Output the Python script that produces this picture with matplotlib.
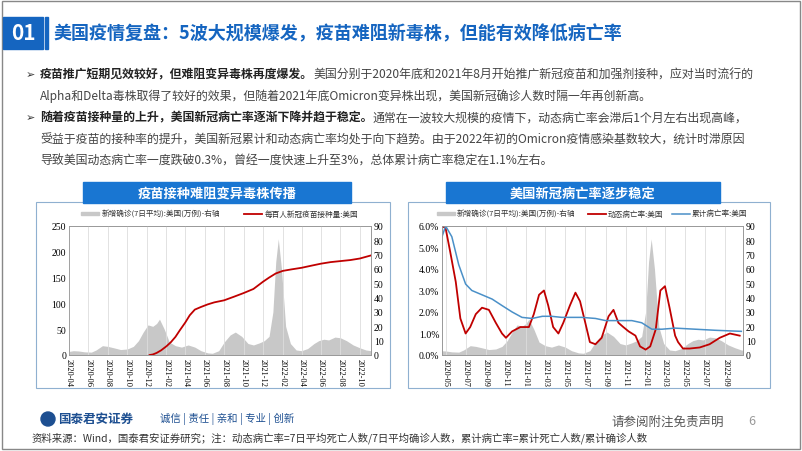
import numpy as np
import pandas as pd
import matplotlib
matplotlib.use("Agg")
from matplotlib import pyplot as plt
from matplotlib.patches import Rectangle
import matplotlib.dates as mdates

plt.rcParams['font.family'] = ['Noto Sans CJK SC', 'DejaVu Sans']

# new cases, 7-day average, US (10k)
case_dates = ['2020-04-01', '2020-04-15', '2020-05-01', '2020-05-20', '2020-06-10', '2020-06-25', '2020-07-15',
              '2020-08-01', '2020-08-20', '2020-09-10', '2020-10-01', '2020-10-20', '2020-11-05', '2020-11-20',
              '2020-12-05', '2020-12-20', '2021-01-01', '2021-01-10', '2021-01-25', '2021-02-10', '2021-03-01',
              '2021-03-20', '2021-04-10', '2021-05-01', '2021-05-20', '2021-06-10', '2021-06-25', '2021-07-15',
              '2021-08-01', '2021-08-20', '2021-09-05', '2021-09-25', '2021-10-15', '2021-11-01', '2021-11-20',
              '2021-12-05', '2021-12-20', '2022-01-01', '2022-01-10', '2022-01-18', '2022-01-28', '2022-02-10',
              '2022-02-25', '2022-03-15', '2022-04-01', '2022-04-20', '2022-05-10', '2022-05-25', '2022-06-10',
              '2022-06-25', '2022-07-15', '2022-08-01', '2022-08-20', '2022-09-10', '2022-10-01', '2022-10-20',
              '2022-11-05']
case_vals = [2.5, 3.0, 2.8, 2.2, 2.0, 3.5, 6.5, 6.0, 5.0, 3.8, 4.2, 6.0, 10.0, 16.0, 21.0, 20.0, 22.0, 25.0,
             18.0, 9.0, 6.5, 5.5, 7.0, 5.5, 3.0, 1.5, 1.2, 3.0, 9.0, 14.0, 16.0, 13.0, 8.0, 7.0, 8.5, 10.0,
             13.0, 30.0, 65.0, 81.0, 60.0, 20.0, 8.0, 3.5, 3.0, 4.5, 8.0, 10.0, 11.0, 10.5, 12.5, 12.0, 10.0,
             7.0, 5.0, 3.5, 3.0]

# doses per 100 people, US
vac_dates = ['2020-12-10', '2020-12-20', '2021-01-01', '2021-01-15', '2021-02-01', '2021-02-15', '2021-03-01',
             '2021-03-15', '2021-04-01', '2021-04-15', '2021-05-01', '2021-05-20', '2021-06-10', '2021-07-01',
             '2021-08-01', '2021-09-01', '2021-10-01', '2021-11-01', '2021-12-01', '2021-12-20', '2022-01-10',
             '2022-02-01', '2022-03-01', '2022-04-01', '2022-05-01', '2022-06-01', '2022-07-01', '2022-08-01',
             '2022-09-01', '2022-10-01', '2022-11-05']
vac_vals = [0, 1, 4, 9, 17, 25, 35, 48, 63, 77, 88, 93, 98, 102, 106, 113, 120, 128, 142, 150, 158, 163, 166,
            169, 173, 177, 180, 182, 184, 187, 193]

# dynamic case fatality rate (%)
dyn_dates = ['2020-04-20', '2020-05-01', '2020-05-15', '2020-06-01', '2020-06-15', '2020-07-01', '2020-07-15',
             '2020-08-01', '2020-08-20', '2020-09-10', '2020-10-01', '2020-10-20', '2020-11-01', '2020-11-20',
             '2020-12-15', '2021-01-10', '2021-01-25', '2021-02-10', '2021-02-25', '2021-03-10', '2021-03-25',
             '2021-04-10', '2021-04-25', '2021-05-15', '2021-06-01', '2021-06-15', '2021-07-01', '2021-07-15',
             '2021-08-01', '2021-08-20', '2021-09-10', '2021-09-25', '2021-10-10', '2021-10-25', '2021-11-10',
             '2021-12-01', '2021-12-15', '2022-01-01', '2022-01-15', '2022-02-01', '2022-02-15', '2022-03-01',
             '2022-03-15', '2022-04-01', '2022-04-10', '2022-04-25', '2022-05-15', '2022-06-15', '2022-07-15',
             '2022-08-15', '2022-09-15', '2022-10-15']
dyn_vals = [6.0, 5.9, 4.8, 3.4, 1.7, 1.0, 1.3, 1.9, 2.2, 2.1, 1.5, 1.0, 0.8, 1.1, 1.3, 1.3, 1.9, 2.8, 3.0, 2.3,
            1.3, 1.0, 1.5, 2.3, 2.9, 2.5, 1.5, 0.6, 0.5, 0.8, 1.8, 2.1, 1.5, 1.3, 1.1, 0.9, 0.4, 0.25, 0.4, 1.2,
            3.0, 3.2, 2.2, 0.9, 0.6, 0.3, 0.3, 0.35, 0.5, 0.8, 1.0, 0.9]

# cumulative case fatality rate (%)
cum_dates = ['2020-04-20', '2020-05-01', '2020-05-20', '2020-06-10', '2020-07-01', '2020-07-20', '2020-08-20',
             '2020-09-20', '2020-10-20', '2020-11-20', '2020-12-20', '2021-01-20', '2021-02-20', '2021-03-20',
             '2021-04-20', '2021-06-20', '2021-08-01', '2021-09-01', '2021-10-01', '2021-11-20', '2021-12-20',
             '2022-01-20', '2022-02-20', '2022-04-01', '2022-06-01', '2022-08-01', '2022-10-20']
cum_vals = [5.5, 6.0, 5.5, 4.2, 3.3, 3.0, 2.8, 2.6, 2.3, 2.0, 1.75, 1.7, 1.8, 1.8, 1.75, 1.75, 1.7, 1.6, 1.6,
            1.6, 1.5, 1.2, 1.2, 1.25, 1.2, 1.15, 1.1]

W, H = 802, 452
fig = plt.figure(figsize=(W / 100, H / 100), dpi=100)
fig.patch.set_facecolor('white')
BLUE = '#1565c0'
RED = '#c00000'
LINE = '#4a90c8'


def px_axes(x0, y0, x1, y1, **kw):
    return fig.add_axes([x0 / W, 1 - y1 / H, (x1 - x0) / W, (y1 - y0) / H], **kw)


bg = px_axes(0, 0, W, H)
bg.set_xlim(0, W)
bg.set_ylim(H, 0)
bg.axis('off')
bg.add_patch(Rectangle((2, 2), W - 4, H - 4, fill=False, ec='#888888', lw=1))
bg.add_patch(Rectangle((3, 18), 40, 32, color=BLUE))
bg.text(23, 34, '01', color='white', fontsize=15, fontweight='bold', ha='center', va='center')
bg.add_patch(Rectangle((45, 18), 2.5, 32, color=BLUE))
bg.text(54, 34, '美国疫情复盘：5波大规模爆发，疫苗难阻新毒株，但能有效降低病亡率', color=BLUE,
        fontsize=13, fontweight='bold', va='center')

lines = [
    (75, ('疫苗推广短期见效较好，但难阻变异毒株再度爆发。', '美国分别于2020年底和2021年8月开始推广新冠疫苗和加强剂接种，应对当时流行的')),
    (96, (None, 'Alpha和Delta毒株取得了较好的效果，但随着2021年底Omicron变异株出现，美国新冠确诊人数时隔一年再创新高。')),
    (118, ('随着疫苗接种量的上升，美国新冠病亡率逐渐下降并趋于稳定。', '通常在一波较大规模的疫情下，动态病亡率会滞后1个月左右出现高峰，')),
    (140, (None, '受益于疫苗的接种率的提升，美国新冠累计和动态病亡率均处于向下趋势。由于2022年初的Omicron疫情感染基数较大，统计时滞原因')),
    (161, (None, '导致美国动态病亡率一度跌破0.3%，曾经一度快速上升至3%，总体累计病亡率稳定在1.1%左右。')),
]
fig.canvas.draw()
for y, (bold, rest) in lines:
    x = 40
    if bold:
        bg.text(26, y, '➢', fontsize=8, va='center', color='#333333', fontfamily='DejaVu Sans')
        t = bg.text(x, y, bold, fontsize=8.6, fontweight='bold', va='center', color='#222222')
        bb = t.get_window_extent(renderer=fig.canvas.get_renderer())
        x = x + bb.width
    bg.text(x, y, rest, fontsize=8.6, va='center', color='#444444')

for x0, x1, x2, x3, title in [(36, 390, 83, 351, '疫苗接种难阻变异毒株传播'), (408, 770, 446, 720, '美国新冠病亡率逐步稳定')]:
    bg.add_patch(Rectangle((x0, 203), x1 - x0, 186, fill=False, ec='#8fb0d0', lw=0.8))
    bg.add_patch(Rectangle((x2, 183), x3 - x2, 21, color='#1976d2'))
    bg.text((x2 + x3) / 2, 193.5, title, color='white', fontsize=9.5, fontweight='bold', ha='center', va='center')

bg.add_patch(plt.Circle((48, 420), 7, color='#1d4f91'))
bg.text(58, 419, '国泰君安证券', fontsize=9, color='#1d4f91', fontweight='bold', va='center')
bg.text(160, 419, '诚信 | 责任 | 亲和 | 专业 | 创新', fontsize=7.5, color='#1d4f91', va='center')
bg.text(612, 422, '请参阅附注免责声明', fontsize=9, color='#555555', va='center')
bg.text(748, 422, '6', fontsize=9, color='#999999', va='center')
bg.text(32, 438, '资料来源：Wind，国泰君安证券研究；注：动态病亡率=7日平均死亡人数/7日平均确诊人数，累计病亡率=累计死亡人数/累计确诊人数',
        fontsize=7.5, color='#333333', va='center')

cd = pd.to_datetime(case_dates)


def style(ax, ax2, start, end, ticks):
    ax.set_xlim(pd.Timestamp(start), pd.Timestamp(end))
    ax.set_xticks(pd.to_datetime(ticks))
    ax.xaxis.set_major_formatter(mdates.DateFormatter('%Y-%m'))
    ax.tick_params(axis='x', labelrotation=-90, labelsize=6, length=0, pad=2)
    ax.grid(axis='x', color='#dddddd', lw=0.6)
    for a in (ax, ax2):
        a.tick_params(axis='y', labelsize=7, length=0, pad=2)
        for s in a.spines.values():
            s.set_color('#999999')
            s.set_linewidth(0.6)
    for lab in ax.get_xticklabels() + ax.get_yticklabels() + ax2.get_yticklabels():
        lab.set_fontfamily('Liberation Serif')


# chart 1
ax = px_axes(69, 227, 371, 356)
ax2 = ax.twinx()
ax.set_zorder(ax2.get_zorder() + 1)
ax.patch.set_visible(False)
ax2.fill_between(cd, case_vals, color='#c8c8c8', lw=0)
ax2.set_ylim(0, 90)
ax2.set_yticks(range(0, 91, 10))
ax.plot(pd.to_datetime(vac_dates), vac_vals, color=RED, lw=1.3)
ax.set_ylim(0, 250)
ax.set_yticks(range(0, 251, 50))
style(ax, ax2, '2020-04-01', '2022-11-05',
      [f'{y}-{m:02d}-01' for y in (2020, 2021, 2022) for m in range(2, 13, 2)][1:-1])
bg.add_patch(Rectangle((81, 213), 18, 3, color='#c8c8c8'))
bg.text(102, 214.5, '新增确诊(7日平均):美国(万例)-右轴', fontsize=5.5, color='#333333', va='center')
bg.plot([244, 262], [214.5, 214.5], color=RED, lw=1.3)
bg.text(265, 214.5, '每百人新冠疫苗接种量:美国', fontsize=5.5, color='#333333', va='center')

# chart 2
bx = px_axes(442, 227, 743, 356)
bx2 = bx.twinx()
bx.set_zorder(bx2.get_zorder() + 1)
bx.patch.set_visible(False)
bx2.fill_between(cd, case_vals, color='#c8c8c8', lw=0)
bx2.set_ylim(0, 90)
bx2.set_yticks(range(0, 91, 10))
bx.plot(pd.to_datetime(dyn_dates), dyn_vals, color=RED, lw=1.3)
bx.plot(pd.to_datetime(cum_dates), cum_vals, color=LINE, lw=1.1)
bx.set_ylim(0, 6)
bx.set_yticks(range(0, 7))
bx.set_yticklabels([f'{v:.1f}%' for v in range(0, 7)])
style(bx, bx2, '2020-04-20', '2022-10-25',
      [f'{y}-{m:02d}-01' for y in (2020, 2021, 2022) for m in range(1, 13, 2)][2:-1])
bg.add_patch(Rectangle((437, 213), 18, 3, color='#c8c8c8'))
bg.text(457, 214.5, '新增确诊(7日平均):美国(万例)-右轴', fontsize=5.5, color='#333333', va='center')
bg.plot([588, 606], [214.5, 214.5], color=RED, lw=1.3)
bg.text(608, 214.5, '动态病亡率:美国', fontsize=5.5, color='#333333', va='center')
bg.plot([672, 690], [214.5, 214.5], color=LINE, lw=1.1)
bg.text(692, 214.5, '累计病亡率:美国', fontsize=5.5, color='#333333', va='center')

fig.savefig('out.png', dpi=100)
